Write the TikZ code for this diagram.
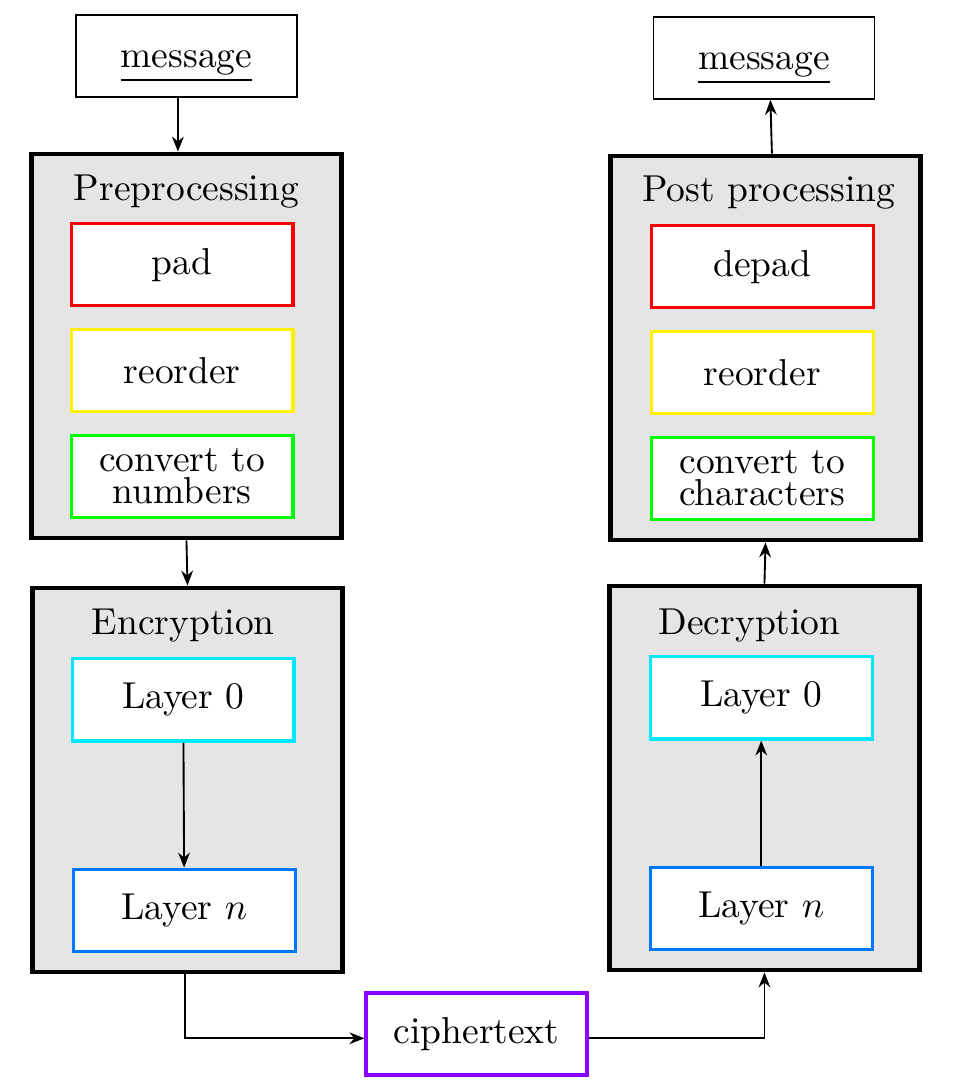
\documentclass[tikz,border=0pt]{standalone}
\usepackage{tikz}
\usetikzlibrary{arrows.meta,positioning}

\definecolor{layercyan}{RGB}{0,232,255}
\definecolor{layerblue}{RGB}{0,119,255}
\definecolor{cipherpurple}{RGB}{140,0,255}

\begin{document}
\begin{tikzpicture}[
    node distance=1.9mm,
    msgbox/.style={rectangle, draw=black, minimum width=20.7mm, minimum height=7.7mm, text height=10pt, align=center},
    frame/.style={rectangle, draw=black, line width=1.3pt, fill=black!10, minimum width=29mm, minimum height=36mm},
    inbox/.style={rectangle, draw, line width=0.9pt, fill=white, align=center, inner sep=1pt, minimum width=20.8mm, minimum height=7.7mm},
    title/.style={inner sep=2pt},
    flow/.style={-{Stealth[length=1.4mm,width=1.1mm]}, line width=0.5pt}
]
\useasboundingbox (0,0) rectangle (8.972,-10.191);

% sender side
\node[msgbox] (msgL) at (1.748,-0.525) {\underline{message}};
\node[frame] (pre) at (1.748,-3.244) {};
\node[title, below=1.4mm of pre.north] (pretitle) {Preprocessing};
\node[inbox, draw=red, below=6.6mm of pre.north, xshift=-0.4mm] (pad) {pad};
\node[inbox, draw=yellow, below=of pad] (reorderL) {reorder};
\node[inbox, draw=green, below=of reorderL] (tonum) {convert to\\[-3.5pt]numbers};

\node[frame] (enc) at (1.758,-7.3125) {};
\node[title, below=1.4mm of enc.north, xshift=-0.4mm] (enctitle) {Encryption};
\node[inbox, draw=layercyan, below=6.7mm of enc.north, xshift=-0.4mm] (encL0) {Layer 0};
\node[inbox, draw=layerblue, above=2mm of enc.south, xshift=-0.3mm] (encLn) {Layer $n$};

% receiver side
\node[msgbox] (msgR) at (7.163,-0.544) {\underline{message}};
\node[frame] (post) at (7.177,-3.2625) {};
\node[title, below=1.3mm of post.north, xshift=0.3mm] (posttitle) {Post processing};
\node[inbox, draw=red, below=6.6mm of post.north, xshift=-0.3mm] (depad) {depad};
\node[inbox, draw=yellow, below=of depad] (reorderR) {reorder};
\node[inbox, draw=green, below=of reorderR] (tochar) {convert to\\[-3.5pt]characters};

\node[frame] (dec) at (7.167,-7.294) {};
\node[title, below=1.6mm of dec.north, xshift=-1.4mm] (dectitle) {Decryption};
\node[inbox, draw=layercyan, below=6.7mm of dec.north, xshift=-0.3mm] (decL0) {Layer 0};
\node[inbox, draw=layerblue, above=2mm of dec.south, xshift=-0.3mm] (decLn) {Layer $n$};

\node[inbox, draw=cipherpurple, minimum width=20.7mm] (cipher) at (4.467,-9.694) {ciphertext};

\draw[flow] ([xshift=-0.8mm]msgL.south) -- ([xshift=-0.8mm]pre.north);
\draw[flow] (pre.south) -- (enc.north);
\draw[flow] (encL0) -- (encLn);
\draw[flow] ([xshift=-0.2mm]enc.south) |- ([yshift=-0.4mm]cipher.west);
\draw[flow] ([yshift=-0.4mm]cipher.east) -| (dec.south);
\draw[flow] (decLn) -- (decL0);
\draw[flow] (dec.north) -- (post.south);
\draw[flow] ([xshift=0.6mm]post.north) -- ([xshift=0.6mm]msgR.south);

\end{tikzpicture}
\end{document}
